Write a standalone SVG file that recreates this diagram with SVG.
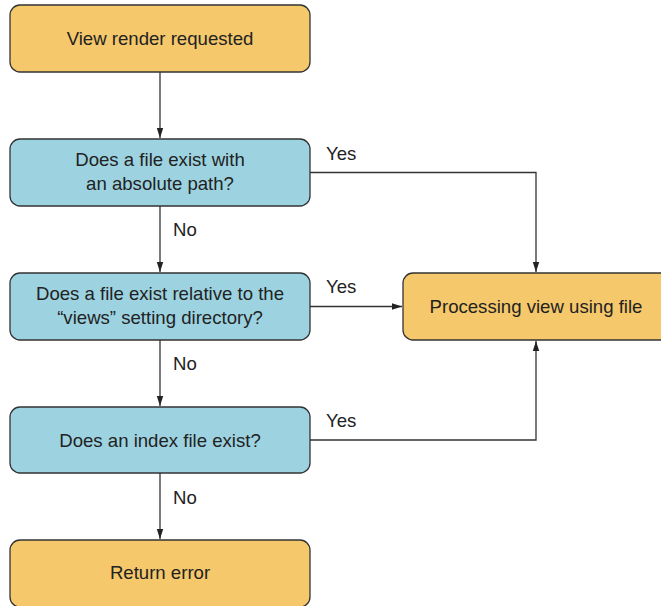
<svg xmlns="http://www.w3.org/2000/svg" width="661" height="606" viewBox="0 0 661 606">
<defs>
<style>
.orange{fill:#F5C86B;stroke:#333;stroke-width:1.3}
.blue{fill:#9DD3E1;stroke:#333;stroke-width:1.3}
text{font-family:"Liberation Sans",Arial,sans-serif;font-size:18.6px;fill:#222}
.c{text-anchor:middle}
.conn{fill:none;stroke:#333;stroke-width:1.3}
</style>
<marker id="arr" viewBox="0 0 10 10" refX="10" refY="5" markerWidth="10" markerHeight="10" markerUnits="userSpaceOnUse" orient="auto">
<path d="M0,1.8 L10,5 L0,8.2 Z" fill="#222"/>
</marker>
</defs>
<g id="connectors">
<line class="conn" x1="160" y1="72" x2="160" y2="138" marker-end="url(#arr)"/>
<line class="conn" x1="160" y1="206" x2="160" y2="272" marker-end="url(#arr)"/>
<line class="conn" x1="160" y1="340" x2="160" y2="406" marker-end="url(#arr)"/>
<line class="conn" x1="160" y1="473" x2="160" y2="539" marker-end="url(#arr)"/>
<polyline class="conn" points="310,172.5 536,172.5 536,272" marker-end="url(#arr)"/>
<line class="conn" x1="310" y1="306.5" x2="402" y2="306.5" marker-end="url(#arr)"/>
<polyline class="conn" points="310,440 536,440 536,341" marker-end="url(#arr)"/>
<text x="326" y="159.5">Yes</text>
<text x="326" y="292.5">Yes</text>
<text x="326" y="426.5">Yes</text>
<text x="173" y="236">No</text>
<text x="173" y="369.5">No</text>
<text x="173" y="503.5">No</text>
</g>
<g id="start">
<rect class="orange" x="10" y="5" width="300" height="67" rx="10"/>
<text class="c" x="160" y="45">View render requested</text>
</g>
<g id="q1">
<rect class="blue" x="10" y="139" width="300" height="67" rx="10"/>
<text class="c" x="160" y="165.5">Does a file exist with</text>
<text class="c" x="160" y="190">an absolute path?</text>
</g>
<g id="q2">
<rect class="blue" x="10" y="273" width="300" height="67" rx="10"/>
<text class="c" x="160" y="299.5">Does a file exist relative to the</text>
<text class="c" x="160" y="323.5">“views” setting directory?</text>
</g>
<g id="q3">
<rect class="blue" x="10" y="407" width="300" height="66" rx="10"/>
<text class="c" x="160" y="446.5">Does an index file exist?</text>
</g>
<g id="error">
<rect class="orange" x="10" y="540" width="300" height="67" rx="10"/>
<text class="c" x="160" y="579">Return error</text>
</g>
<g id="process">
<rect class="orange" x="403" y="273" width="268" height="67" rx="10"/>
<text class="c" x="536" y="312.5">Processing view using file</text>
</g>
</svg>
